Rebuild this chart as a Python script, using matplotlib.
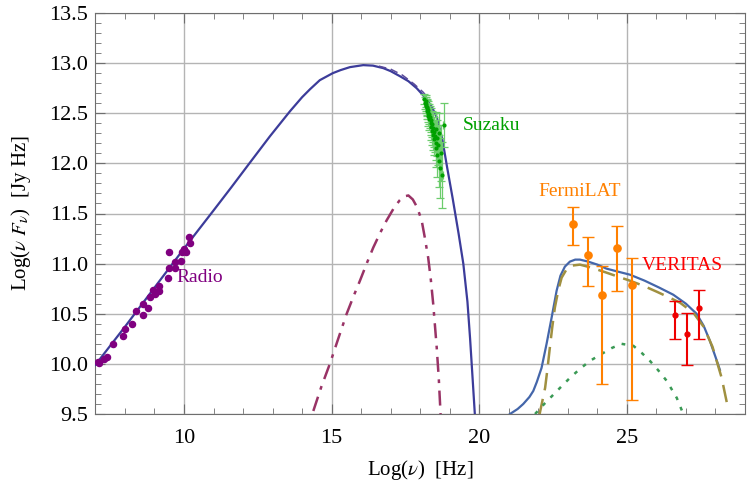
import numpy as np
import matplotlib
matplotlib.use('Agg')
import matplotlib.pyplot as plt
from matplotlib.ticker import MultipleLocator

# ---- data ----
# radio points
radio_x = [7.08, 7.12, 7.30, 7.39, 7.59, 7.92, 8.01, 8.23, 8.37, 8.60, 8.60, 8.77, 8.85, 8.96,
           9.01, 9.14, 9.14, 9.45, 9.48, 9.50, 9.71, 9.71, 9.90, 9.93, 10.01, 10.07, 10.18, 10.21]
radio_y = [10.02, 10.01, 10.05, 10.07, 10.20, 10.28, 10.35, 10.40, 10.53, 10.49, 10.60, 10.56, 10.67, 10.74,
           10.70, 10.73, 10.78, 10.86, 10.96, 11.12, 10.96, 11.02, 11.03, 11.12, 11.15, 11.12, 11.27, 11.21]

# suzaku points
suz_x = [18.14, 18.16, 18.18, 18.19, 18.20, 18.22, 18.23, 18.24, 18.26, 18.27, 18.28, 18.30,
         18.31, 18.33, 18.35, 18.36, 18.38, 18.40, 18.41, 18.43, 18.45, 18.47, 18.48, 18.50,
         18.52, 18.53, 18.55, 18.57, 18.58, 18.60, 18.62, 18.64, 18.66, 18.70, 18.74, 18.80]
suz_y = [12.64, 12.60, 12.62, 12.57, 12.59, 12.55, 12.52, 12.56, 12.50, 12.53, 12.47, 12.49,
         12.44, 12.46, 12.40, 12.43, 12.36, 12.39, 12.32, 12.35, 12.28, 12.31, 12.24, 12.27,
         12.20, 12.34, 12.15, 12.25, 12.08, 12.18, 12.02, 12.30, 11.95, 12.10, 11.88, 12.38]
suz_e = [0.05, 0.06, 0.06, 0.07, 0.07, 0.08, 0.08, 0.08, 0.09, 0.09, 0.10, 0.10,
         0.11, 0.11, 0.12, 0.12, 0.13, 0.13, 0.14, 0.14, 0.15, 0.15, 0.16, 0.16,
         0.17, 0.17, 0.19, 0.18, 0.22, 0.20, 0.26, 0.20, 0.30, 0.28, 0.33, 0.22]

# Fermi LAT points
fermi_x = [23.17, 23.67, 24.17, 24.67, 25.17]
fermi_y = [11.40, 11.09, 10.69, 11.16, 10.79]
fermi_lo = [11.19, 10.78, 9.80, 10.73, 9.64]
fermi_hi = [11.56, 11.27, 10.98, 11.38, 11.06]

# VERITAS points
ver_x = [26.64, 27.03, 27.44]
ver_y = [10.49, 10.30, 10.56]
ver_lo = [10.25, 9.99, 10.25]
ver_hi = [10.63, 10.51, 10.74]

# synchrotron model (solid)
syn_x = [7.0, 8.0, 9.0, 10.0, 11.0, 11.6, 12.24, 12.91, 13.59, 14.0, 14.27, 14.6, 15.04, 15.3,
         15.62, 16.07, 16.4, 16.75, 17.0, 17.31, 17.6, 17.88, 18.22, 18.40, 18.56, 18.75, 18.90,
         19.10, 19.30, 19.46, 19.60, 19.69, 19.78, 19.85]
syn_y = [9.99, 10.37, 10.76, 11.15, 11.53, 11.76, 12.01, 12.27, 12.52, 12.66, 12.74, 12.83, 12.90, 12.93,
         12.96, 12.98, 12.975, 12.95, 12.92, 12.87, 12.82, 12.75, 12.64, 12.56, 12.46, 12.24, 11.98,
         11.65, 11.30, 11.00, 10.62, 10.25, 9.83, 9.50]

# second synchrotron model near the peak (thin dashed)
syn2_x = [16.6, 17.0, 17.4, 17.8, 18.1, 18.3]
syn2_y = [12.97, 12.94, 12.88, 12.79, 12.71, 12.64]

# thermal-like bump (dash-dot)
bump_x = [14.38, 14.65, 14.94, 15.20, 15.51, 15.75, 15.96, 16.20, 16.41, 16.65, 16.86, 17.10, 17.30,
          17.45, 17.60, 17.75, 17.90, 18.05, 18.15, 18.27, 18.36, 18.44, 18.50, 18.56, 18.63, 18.69]
bump_y = [9.53, 9.77, 10.00, 10.23, 10.50, 10.68, 10.83, 11.01, 11.16, 11.31, 11.43, 11.55, 11.63,
          11.67, 11.68, 11.64, 11.56, 11.43, 11.27, 11.06, 10.84, 10.60, 10.38, 10.16, 9.85, 9.50]

# IC total (solid)
ic_x = [21.04, 21.30, 21.49, 21.70, 21.83, 21.95, 22.11, 22.28, 22.45, 22.62, 22.75, 22.90, 23.07,
        23.25, 23.41, 23.69, 24.00, 24.31, 24.70, 25.10, 25.60, 26.10, 26.57, 27.00, 27.36, 27.60,
        27.81, 28.00, 28.15]
ic_y = [9.50, 9.55, 9.60, 9.67, 9.73, 9.82, 9.96, 10.20, 10.46, 10.73, 10.88, 10.97, 11.02,
        11.04, 11.04, 11.02, 10.99, 10.95, 10.92, 10.89, 10.83, 10.76, 10.69, 10.60, 10.50, 10.38,
        10.23, 10.07, 9.94]

# IC component (dashed)
ic2_x = [22.03, 22.13, 22.23, 22.31, 22.39, 22.47, 22.56, 22.68, 22.79, 22.95, 23.13, 23.41, 23.80,
         24.31, 24.70, 25.10, 25.55, 26.01, 26.45, 26.80, 27.25, 27.60, 27.90, 28.21, 28.43]
ic2_y = [9.48, 9.62, 9.76, 9.95, 10.16, 10.36, 10.56, 10.74, 10.86, 10.94, 10.98, 10.99, 10.96,
         10.91, 10.87, 10.83, 10.78, 10.72, 10.66, 10.61, 10.51, 10.37, 10.17, 9.86, 9.55]

# second IC component (dotted)
ic3_x = [21.89, 22.20, 22.50, 22.80, 23.07, 23.41, 23.75, 24.09, 24.50, 24.82, 25.22, 25.50,
         25.78, 26.05, 26.35, 26.69, 26.91]
ic3_y = [9.50, 9.60, 9.69, 9.78, 9.86, 9.95, 10.03, 10.09, 10.16, 10.20, 10.18, 10.11,
         10.03, 9.94, 9.83, 9.66, 9.50]

# ---- style ----
plt.rcParams['font.family'] = ['Liberation Serif', 'DejaVu Serif']
plt.rcParams['mathtext.fontset'] = 'stix'
plt.rcParams['font.size'] = 16

fig = plt.figure(figsize=(7.47, 4.93), dpi=100)
ax = fig.add_axes([95.4/747, 79/493, (745-95.4)/747, (414-13)/493])

# model curves
ax.plot(syn_x, syn_y, color='#3c3c9a', lw=1.6, zorder=4)
ax.plot(syn2_x, syn2_y, color='#5a4a9a', lw=1.1, ls=(0, (5, 3)), zorder=4)
ax.plot(bump_x, bump_y, color='#993366', lw=1.8, ls=(0, (6, 3, 1.5, 3)), zorder=4)
ax.plot(ic_x, ic_y, color='#4466aa', lw=1.6, zorder=4)
ax.plot(ic2_x, ic2_y, color='#a09040', lw=1.8, ls=(0, (7, 3.5)), zorder=4)
ax.plot(ic3_x, ic3_y, color='#3a9a55', lw=1.8, ls=(0, (1.5, 3)), zorder=4)

# data
ax.plot(radio_x, radio_y, 'o', color='#800080', ms=4.4, zorder=5)
ax.errorbar(suz_x, suz_y, yerr=suz_e, xerr=0.02, fmt='o', color='#00a000', ms=2,
            ecolor='#6ccc6c', elinewidth=0.9, capsize=3, capthick=0.9, zorder=5)
f_err = [np.array(fermi_y) - np.array(fermi_lo), np.array(fermi_hi) - np.array(fermi_y)]
ax.errorbar(fermi_x, fermi_y, yerr=f_err, fmt='o', color='#ff8000', ms=5.2,
            elinewidth=1.5, capsize=4, zorder=5)
v_err = [np.array(ver_y) - np.array(ver_lo), np.array(ver_hi) - np.array(ver_y)]
ax.errorbar(ver_x, ver_y, yerr=v_err, fmt='o', color='#ee0000', ms=3.5,
            elinewidth=1.5, capsize=4, zorder=5)

# labels on the plot
ax.text(9.73, 10.86, 'Radio', color='#800080', fontsize=14, va='center', ha='left')
ax.text(19.45, 12.38, 'Suzaku', color='#00a000', fontsize=14, va='center', ha='left')
ax.text(21.99, 11.72, 'FermiLAT', color='#ff8000', fontsize=14, va='center', ha='left')
ax.text(25.51, 10.98, 'VERITAS', color='#ff0000', fontsize=14, va='center', ha='left')

# axes
ax.set_xlim(7, 29)
ax.set_ylim(9.5, 13.5)
ax.xaxis.set_major_locator(MultipleLocator(5))
ax.xaxis.set_minor_locator(MultipleLocator(1))
ax.yaxis.set_major_locator(MultipleLocator(0.5))
ax.yaxis.set_minor_locator(MultipleLocator(0.1))
ax.yaxis.set_major_formatter(plt.FormatStrFormatter('%.1f'))
ax.grid(True, which='major', color='#b4b4b4', lw=1)
ax.tick_params(which='both', direction='in', top=True, right=True, color='#6e6e6e')
ax.tick_params(which='major', length=7, labelsize=16)
ax.tick_params(axis='x', which='major', pad=11)
ax.tick_params(axis='y', which='major', pad=5)
ax.tick_params(which='minor', length=4)
for s in ax.spines.values():
    s.set_color('#6e6e6e')

ax.set_xlabel(r'Log($\nu$)  [Hz]', fontsize=15, labelpad=7)
ax.set_ylabel(r'Log($\nu\ F_\nu$)  [Jy Hz]', fontsize=15, labelpad=12)

fig.savefig('out.png', dpi=100)
